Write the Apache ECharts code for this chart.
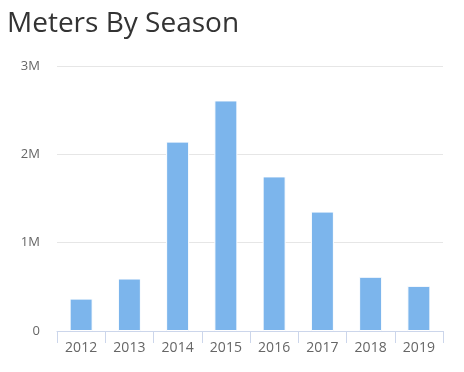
<!DOCTYPE html>
<html><head><meta charset="utf-8">
<script src="https://cdn.jsdelivr.net/npm/echarts@6/dist/echarts.min.js"></script>
<style>html,body{margin:0;padding:0;background:#fff}#c{width:464px;height:372px}</style>
</head><body><div id="c"></div>
<script>
const titleText = "Meters By Season";
const categories = ["2012","2013","2014","2015","2016","2017","2018","2019"];
const meters = [367000, 594000, 2144000, 2610000, 1750000, 1352000, 614000, 511000];
const yTicks = [0, 1000000, 2000000, 3000000];

const chart = echarts.init(document.getElementById('c'));
chart.setOption({
  animation: false,
  title: {
    text: titleText, left: 2, top: 5,
    textStyle: { fontFamily: 'Open Sans', fontWeight: 'normal', fontSize: 28, color: '#333333' }
  },
  grid: { left: 57, right: 21, top: 66, bottom: 41 },
  xAxis: {
    type: 'category', data: categories,
    axisLine: { lineStyle: { color: '#ccd6eb' } },
    axisTick: { show: true, length: 12, lineStyle: { color: '#ccd6eb' } },
    axisLabel: { color: '#666666', fontSize: 14, fontFamily: 'Open Sans', margin: 10 }
  },
  yAxis: {
    type: 'value', min: yTicks[0], max: yTicks[yTicks.length-1], interval: 1000000,
    axisLine: { show: false }, axisTick: { show: false },
    splitLine: { lineStyle: { color: '#e6e6e6' } },
    axisLabel: { color: '#666666', fontSize: 13, fontFamily: 'Open Sans', margin: 17,
      formatter: v => v === 0 ? '0' : (v/1000000) + 'M' }
  },
  series: [{
    type: 'bar', data: meters, barWidth: 23,
    itemStyle: { color: '#7cb5ec', borderColor: '#ffffff', borderWidth: 1 }
  }]
});
</script></body></html>
